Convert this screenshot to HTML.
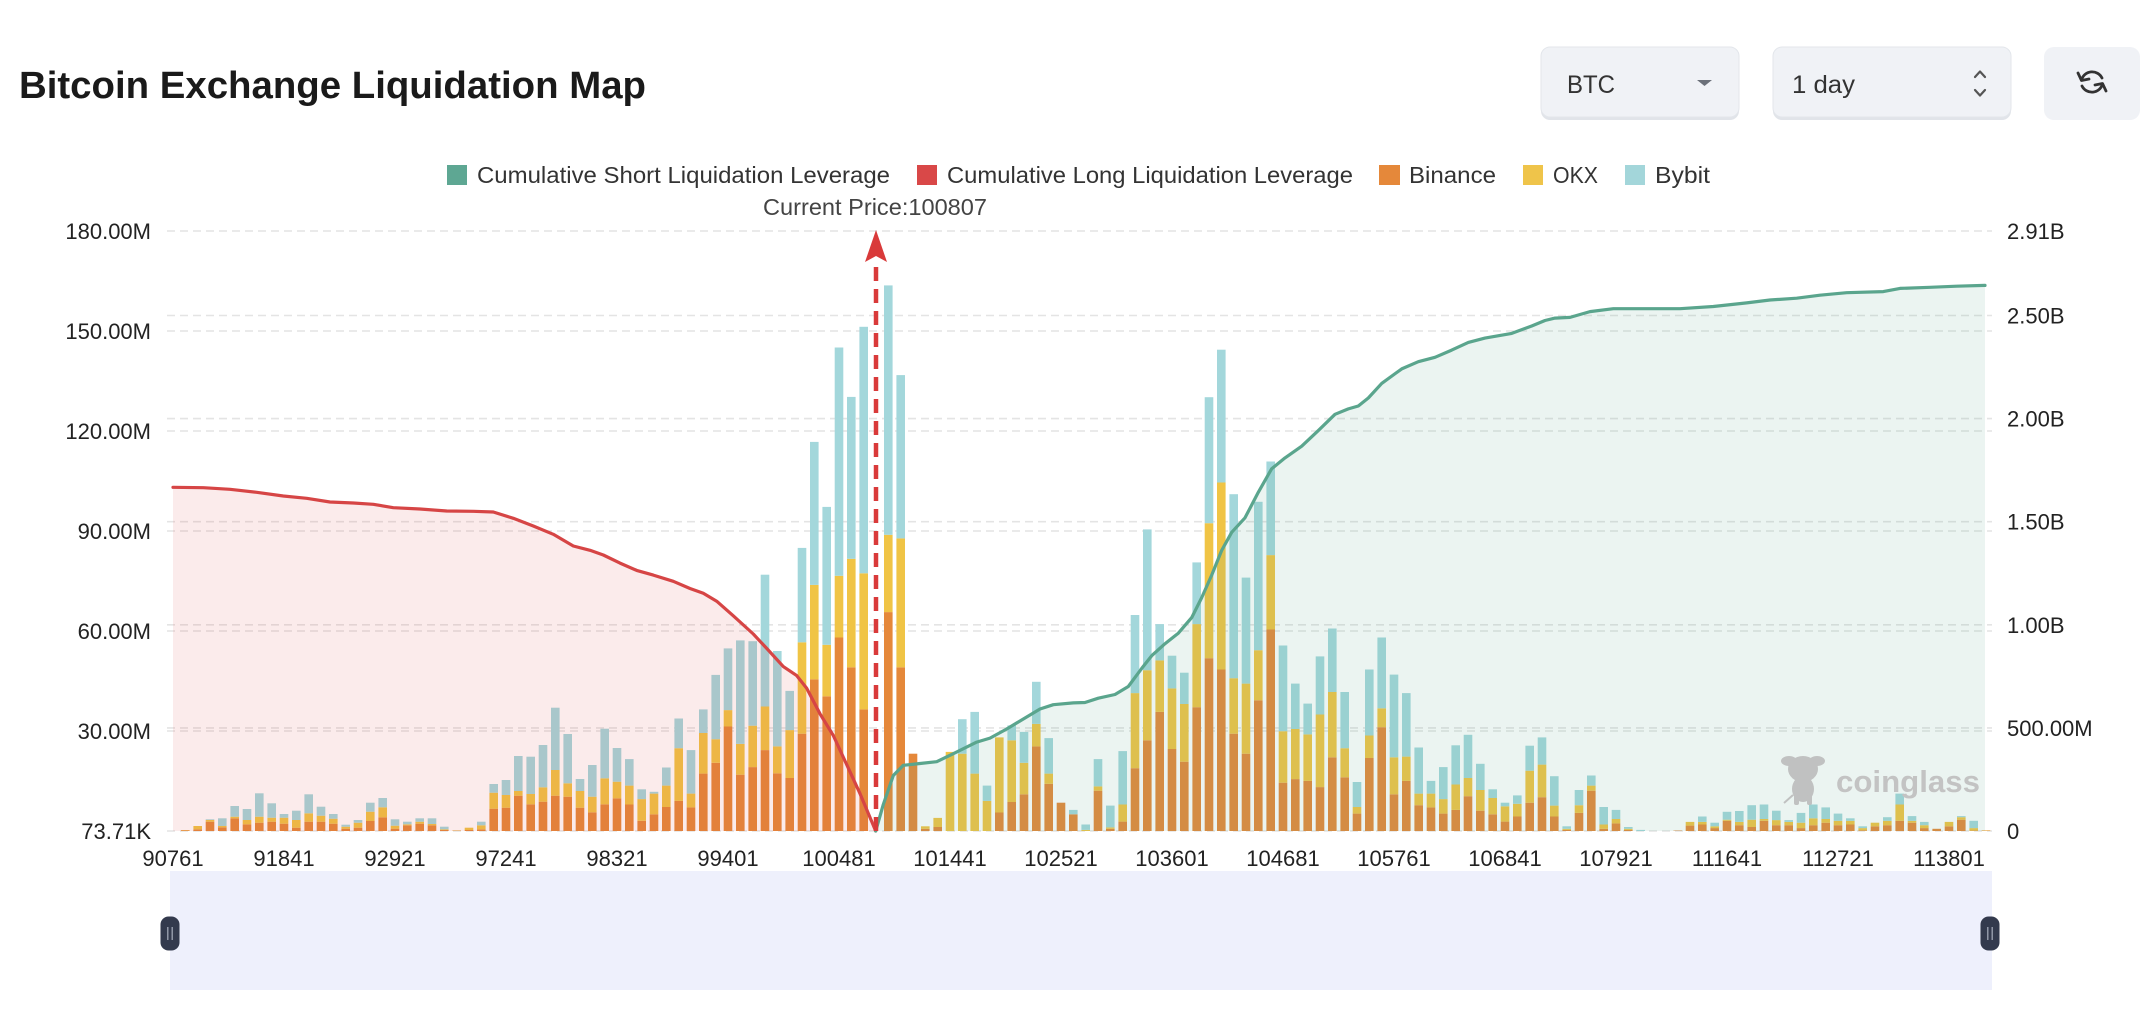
<!DOCTYPE html>
<html>
<head>
<meta charset="utf-8">
<style>
html,body{margin:0;padding:0;background:#fff;}
svg{display:block;}
.o{fill:#e5883a}.y{fill:#f0c445}.b{fill:#a3d7db}
.ax{font-family:"Liberation Sans",sans-serif;font-size:22px;fill:#222;}
.lg{font-family:"Liberation Sans",sans-serif;font-size:23px;fill:#333;}
.gl{stroke:#e4e4e4;stroke-width:1.6;stroke-dasharray:8 5;fill:none;}
</style>
</head>
<body>
<svg width="2156" height="1026" viewBox="0 0 2156 1026" xmlns="http://www.w3.org/2000/svg">
<rect x="0" y="0" width="2156" height="1026" fill="#fff"/>

<!-- Title -->
<text x="19" y="98" font-family="Liberation Sans, sans-serif" font-weight="700" font-size="38" fill="#1a1a1a" textLength="627" lengthAdjust="spacingAndGlyphs">Bitcoin Exchange Liquidation Map</text>

<!-- Controls -->
<rect x="1541" y="49" width="198" height="71" rx="9" fill="#e1e4e9"/>
<rect x="1541" y="47" width="198" height="70" rx="9" fill="#f0f2f6" stroke="#e3e6eb" stroke-width="1"/>
<text x="1567" y="93" font-family="Liberation Sans, sans-serif" font-size="25" fill="#333" textLength="48" lengthAdjust="spacingAndGlyphs">BTC</text>
<polygon points="1697,80 1712,80 1704.5,86" fill="#6b7079"/>

<rect x="1773" y="49" width="238" height="71" rx="9" fill="#e1e4e9"/>
<rect x="1773" y="47" width="238" height="70" rx="9" fill="#f0f2f6" stroke="#e3e6eb" stroke-width="1"/>
<text x="1792" y="93" font-family="Liberation Sans, sans-serif" font-size="25" fill="#333" textLength="63" lengthAdjust="spacingAndGlyphs">1 day</text>
<polyline points="1975,77 1980,71.5 1985,77" fill="none" stroke="#555" stroke-width="2.2" stroke-linecap="round" stroke-linejoin="round"/>
<polyline points="1975,90 1980,95.5 1985,90" fill="none" stroke="#555" stroke-width="2.2" stroke-linecap="round" stroke-linejoin="round"/>

<rect x="2044" y="47" width="96" height="73" rx="10" fill="#f0f2f6"/>
<g fill="none" stroke="#333" stroke-width="2.8" stroke-linecap="round" stroke-linejoin="round">
<path d="M2102,78 A11,11 0 0 0 2081.5,80"/>
<polyline points="2078,73 2081.5,80.5 2089,79"/>
<path d="M2082,86 A11,11 0 0 0 2102.5,84"/>
<polyline points="2106,91 2102.5,83.5 2095,85"/>
</g>

<!-- Legend -->
<rect x="447" y="165" width="20" height="20" fill="#5ea793"/>
<text class="lg" x="477" y="183" textLength="413" lengthAdjust="spacingAndGlyphs">Cumulative Short Liquidation Leverage</text>
<rect x="917" y="165" width="20" height="20" fill="#d94848"/>
<text class="lg" x="947" y="183" textLength="406" lengthAdjust="spacingAndGlyphs">Cumulative Long Liquidation Leverage</text>
<rect x="1379" y="165" width="21" height="20" fill="#e5883a"/>
<text class="lg" x="1409" y="183" textLength="87" lengthAdjust="spacingAndGlyphs">Binance</text>
<rect x="1523" y="165" width="20" height="20" fill="#efc44a"/>
<text class="lg" x="1553" y="183" textLength="45" lengthAdjust="spacingAndGlyphs">OKX</text>
<rect x="1625" y="165" width="20" height="20" fill="#a3d6da"/>
<text class="lg" x="1655" y="183" textLength="55" lengthAdjust="spacingAndGlyphs">Bybit</text>

<text x="763" y="215" font-family="Liberation Sans, sans-serif" font-size="23" fill="#444" textLength="224" lengthAdjust="spacingAndGlyphs">Current Price:100807</text>

<!-- Gridlines left axis -->
<g class="gl">
<line x1="167" y1="231" x2="1992" y2="231"/>
<line x1="167" y1="331" x2="1992" y2="331"/>
<line x1="167" y1="431" x2="1992" y2="431"/>
<line x1="167" y1="531" x2="1992" y2="531"/>
<line x1="167" y1="631" x2="1992" y2="631"/>
<line x1="167" y1="731" x2="1992" y2="731"/>
<line x1="167" y1="831" x2="1992" y2="831"/>
<!-- right axis -->
<line x1="167" y1="315.5" x2="1992" y2="315.5"/>
<line x1="167" y1="418.6" x2="1992" y2="418.6"/>
<line x1="167" y1="521.7" x2="1992" y2="521.7"/>
<line x1="167" y1="624.8" x2="1992" y2="624.8"/>
<line x1="167" y1="727.9" x2="1992" y2="727.9"/>
</g>

<!-- Bars -->
<g transform="translate(0,831) scale(1,-1)">
<rect class="o" x="181.0" width="8.6" height="0.7"/><rect class="y" x="181.0" y="0.7" width="8.6" height="0.3"/>
<rect class="o" x="193.4" width="8.6" height="1.7"/><rect class="y" x="193.4" y="1.7" width="8.6" height="3.3"/>
<rect class="o" x="205.7" width="8.6" height="9.3"/><rect class="y" x="205.7" y="9.3" width="8.6" height="1.7"/><rect class="b" x="205.7" y="11" width="8.6" height="0.7"/>
<rect class="o" x="218.0" width="8.6" height="3.7"/><rect class="y" x="218.0" y="3.7" width="8.6" height="1.3"/><rect class="b" x="218.0" y="5" width="8.6" height="7.7"/>
<rect class="o" x="230.4" width="8.6" height="12.7"/><rect class="y" x="230.4" y="12.7" width="8.6" height="1.6"/><rect class="b" x="230.4" y="14.3" width="8.6" height="10.7"/>
<rect class="o" x="242.7" width="8.6" height="6.7"/><rect class="y" x="242.7" y="6.7" width="8.6" height="4.3"/><rect class="b" x="242.7" y="11" width="8.6" height="11"/>
<rect class="o" x="255.0" width="8.6" height="8.3"/><rect class="y" x="255.0" y="8.3" width="8.6" height="6"/><rect class="b" x="255.0" y="14.3" width="8.6" height="23.4"/>
<rect class="o" x="267.4" width="8.6" height="9.3"/><rect class="y" x="267.4" y="9.3" width="8.6" height="4"/><rect class="b" x="267.4" y="13.3" width="8.6" height="14.4"/>
<rect class="o" x="279.7" width="8.6" height="7.3"/><rect class="y" x="279.7" y="7.3" width="8.6" height="6"/><rect class="b" x="279.7" y="13.3" width="8.6" height="3.7"/>
<rect class="o" x="292.0" width="8.6" height="3.3"/><rect class="y" x="292.0" y="3.3" width="8.6" height="7.7"/><rect class="b" x="292.0" y="11" width="8.6" height="9.3"/>
<rect class="o" x="304.4" width="8.6" height="9.3"/><rect class="y" x="304.4" y="9.3" width="8.6" height="8.4"/><rect class="b" x="304.4" y="17.7" width="8.6" height="19"/>
<rect class="o" x="316.7" width="8.6" height="9.3"/><rect class="y" x="316.7" y="9.3" width="8.6" height="6"/><rect class="b" x="316.7" y="15.3" width="8.6" height="9"/>
<rect class="o" x="329.0" width="8.6" height="7.3"/><rect class="y" x="329.0" y="7.3" width="8.6" height="5"/><rect class="b" x="329.0" y="12.3" width="8.6" height="4.7"/>
<rect class="o" x="341.4" width="8.6" height="2.3"/><rect class="y" x="341.4" y="2.3" width="8.6" height="2"/><rect class="b" x="341.4" y="4.3" width="8.6" height="2"/>
<rect class="o" x="353.7" width="8.6" height="3.3"/><rect class="y" x="353.7" y="3.3" width="8.6" height="5"/><rect class="b" x="353.7" y="8.3" width="8.6" height="2.7"/>
<rect class="o" x="366.0" width="8.6" height="10"/><rect class="y" x="366.0" y="10" width="8.6" height="9.3"/><rect class="b" x="366.0" y="19.3" width="8.6" height="9"/>
<rect class="o" x="378.4" width="8.6" height="13.7"/><rect class="y" x="378.4" y="13.7" width="8.6" height="10"/><rect class="b" x="378.4" y="23.7" width="8.6" height="9.3"/>
<rect class="o" x="390.7" width="8.6" height="2.3"/><rect class="y" x="390.7" y="2.3" width="8.6" height="3"/><rect class="b" x="390.7" y="5.3" width="8.6" height="6.4"/>
<rect class="o" x="403.0" width="8.6" height="5.7"/><rect class="y" x="403.0" y="5.7" width="8.6" height="1"/><rect class="b" x="403.0" y="6.7" width="8.6" height="2.6"/>
<rect class="o" x="415.4" width="8.6" height="7.3"/><rect class="y" x="415.4" y="7.3" width="8.6" height="2"/><rect class="b" x="415.4" y="9.3" width="8.6" height="3.4"/>
<rect class="o" x="427.7" width="8.6" height="5.7"/><rect class="y" x="427.7" y="5.7" width="8.6" height="1.3"/><rect class="b" x="427.7" y="7" width="8.6" height="5.7"/>
<rect class="o" x="440.0" width="8.6" height="1"/><rect class="y" x="440.0" y="1" width="8.6" height="0.7"/><rect class="b" x="440.0" y="1.7" width="8.6" height="2.6"/>
<rect class="o" x="452.4" width="8.6" height="0.3"/><rect class="y" x="452.4" y="0.3" width="8.6" height="0.3"/>
<rect class="o" x="464.7" width="8.6" height="1"/><rect class="y" x="464.7" y="1" width="8.6" height="2.3"/>
<rect class="o" x="477.0" width="8.6" height="1.7"/><rect class="y" x="477.0" y="1.7" width="8.6" height="4"/><rect class="b" x="477.0" y="5.7" width="8.6" height="3.6"/>
<rect class="o" x="489.4" width="8.6" height="22.3"/><rect class="y" x="489.4" y="22.3" width="8.6" height="16"/><rect class="b" x="489.4" y="38.3" width="8.6" height="8.7"/>
<rect class="o" x="501.7" width="8.6" height="23.3"/><rect class="y" x="501.7" y="23.3" width="8.6" height="12.7"/><rect class="b" x="501.7" y="36" width="8.6" height="15"/>
<rect class="o" x="514.0" width="8.6" height="35.3"/><rect class="y" x="514.0" y="35.3" width="8.6" height="4.7"/><rect class="b" x="514.0" y="40" width="8.6" height="35"/>
<rect class="o" x="526.4" width="8.6" height="26.7"/><rect class="y" x="526.4" y="26.7" width="8.6" height="10.3"/><rect class="b" x="526.4" y="37" width="8.6" height="37.3"/>
<rect class="o" x="538.7" width="8.6" height="29.3"/><rect class="y" x="538.7" y="29.3" width="8.6" height="14.4"/><rect class="b" x="538.7" y="43.7" width="8.6" height="42.3"/>
<rect class="o" x="551.0" width="8.6" height="35.3"/><rect class="y" x="551.0" y="35.3" width="8.6" height="25.7"/><rect class="b" x="551.0" y="61" width="8.6" height="62.3"/>
<rect class="o" x="563.4" width="8.6" height="34.3"/><rect class="y" x="563.4" y="34.3" width="8.6" height="13.4"/><rect class="b" x="563.4" y="47.7" width="8.6" height="49.3"/>
<rect class="o" x="575.7" width="8.6" height="23.3"/><rect class="y" x="575.7" y="23.3" width="8.6" height="16.7"/><rect class="b" x="575.7" y="40" width="8.6" height="12"/>
<rect class="o" x="588.0" width="8.6" height="18.7"/><rect class="y" x="588.0" y="18.7" width="8.6" height="15.6"/><rect class="b" x="588.0" y="34.3" width="8.6" height="31.7"/>
<rect class="o" x="600.4" width="8.6" height="26.7"/><rect class="y" x="600.4" y="26.7" width="8.6" height="26"/><rect class="b" x="600.4" y="52.7" width="8.6" height="49.6"/>
<rect class="o" x="612.7" width="8.6" height="32.7"/><rect class="y" x="612.7" y="32.7" width="8.6" height="16.6"/><rect class="b" x="612.7" y="49.3" width="8.6" height="33.7"/>
<rect class="o" x="625.0" width="8.6" height="26.5"/><rect class="y" x="625.0" y="26.5" width="8.6" height="18.9"/><rect class="b" x="625.0" y="45.4" width="8.6" height="26.5"/>
<rect class="o" x="637.4" width="8.6" height="10.2"/><rect class="y" x="637.4" y="10.2" width="8.6" height="21.7"/><rect class="b" x="637.4" y="31.9" width="8.6" height="9.8"/>
<rect class="o" x="649.7" width="8.6" height="16.7"/><rect class="y" x="649.7" y="16.7" width="8.6" height="20.7"/><rect class="b" x="649.7" y="37.4" width="8.6" height="1.8"/>
<rect class="o" x="662.0" width="8.6" height="24"/><rect class="y" x="662.0" y="24" width="8.6" height="21.4"/><rect class="b" x="662.0" y="45.4" width="8.6" height="18.1"/>
<rect class="o" x="674.4" width="8.6" height="30.1"/><rect class="y" x="674.4" y="30.1" width="8.6" height="52.7"/><rect class="b" x="674.4" y="82.8" width="8.6" height="29.7"/>
<rect class="o" x="686.7" width="8.6" height="23.6"/><rect class="y" x="686.7" y="23.6" width="8.6" height="13.8"/><rect class="b" x="686.7" y="37.4" width="8.6" height="43.5"/>
<rect class="o" x="699.0" width="8.6" height="57.4"/><rect class="y" x="699.0" y="57.4" width="8.6" height="40.6"/><rect class="b" x="699.0" y="98" width="8.6" height="23.6"/>
<rect class="o" x="711.4" width="8.6" height="68.2"/><rect class="y" x="711.4" y="68.2" width="8.6" height="23.6"/><rect class="b" x="711.4" y="91.8" width="8.6" height="64.3"/>
<rect class="o" x="723.7" width="8.6" height="104.5"/><rect class="y" x="723.7" y="104.5" width="8.6" height="16.4"/><rect class="b" x="723.7" y="120.9" width="8.6" height="61.7"/>
<rect class="o" x="736.0" width="8.6" height="56.3"/><rect class="y" x="736.0" y="56.3" width="8.6" height="30.8"/><rect class="b" x="736.0" y="87.1" width="8.6" height="103.5"/>
<rect class="o" x="748.4" width="8.6" height="63.9"/><rect class="y" x="748.4" y="63.9" width="8.6" height="41.4"/><rect class="b" x="748.4" y="105.3" width="8.6" height="84.5"/>
<rect class="o" x="760.7" width="8.6" height="80.9"/><rect class="y" x="760.7" y="80.9" width="8.6" height="43.6"/><rect class="b" x="760.7" y="124.5" width="8.6" height="131.8"/>
<rect class="o" x="773.0" width="8.6" height="57.7"/><rect class="y" x="773.0" y="57.7" width="8.6" height="26.9"/><rect class="b" x="773.0" y="84.6" width="8.6" height="95.4"/>
<rect class="o" x="785.4" width="8.6" height="53"/><rect class="y" x="785.4" y="53" width="8.6" height="47.9"/><rect class="b" x="785.4" y="100.9" width="8.6" height="39.2"/>
<rect class="o" x="797.7" width="8.6" height="97.3"/><rect class="y" x="797.7" y="97.3" width="8.6" height="91.4"/><rect class="b" x="797.7" y="188.7" width="8.6" height="94.4"/>
<rect class="o" x="810.0" width="8.6" height="151.7"/><rect class="y" x="810.0" y="151.7" width="8.6" height="94.4"/><rect class="b" x="810.0" y="246.1" width="8.6" height="143"/>
<rect class="o" x="822.4" width="8.6" height="134.7"/><rect class="y" x="822.4" y="134.7" width="8.6" height="51.5"/><rect class="b" x="822.4" y="186.2" width="8.6" height="137.9"/>
<rect class="o" x="834.7" width="8.6" height="193.5"/><rect class="y" x="834.7" y="193.5" width="8.6" height="61.7"/><rect class="b" x="834.7" y="255.2" width="8.6" height="228.3"/>
<rect class="o" x="847.0" width="8.6" height="163.7"/><rect class="y" x="847.0" y="163.7" width="8.6" height="108.5"/><rect class="b" x="847.0" y="272.2" width="8.6" height="161.9"/>
<rect class="o" x="859.4" width="8.6" height="121.6"/><rect class="y" x="859.4" y="121.6" width="8.6" height="136.1"/><rect class="b" x="859.4" y="257.7" width="8.6" height="246.5"/>
<rect class="o" x="884.0" width="8.6" height="218.9"/><rect class="y" x="884.0" y="218.9" width="8.6" height="77.3"/><rect class="b" x="884.0" y="296.2" width="8.6" height="249.4"/>
<rect class="o" x="896.4" width="8.6" height="163.7"/><rect class="y" x="896.4" y="163.7" width="8.6" height="128.9"/><rect class="b" x="896.4" y="292.6" width="8.6" height="163.3"/>
<rect class="o" x="908.7" width="8.6" height="77.3"/>
<rect class="o" x="921.0" width="8.6" height="2.2"/><rect class="y" x="921.0" y="2.2" width="8.6" height="2.5"/>
<rect class="o" x="933.4" width="8.6" height="4"/><rect class="y" x="933.4" y="4" width="8.6" height="9.1"/>
<rect class="y" x="945.7" width="8.6" height="79.1"/>
<rect class="y" x="958.0" width="8.6" height="77.3"/><rect class="b" x="958.0" y="77.3" width="8.6" height="34.5"/>
<rect class="y" x="970.4" width="8.6" height="57.4"/><rect class="b" x="970.4" y="57.4" width="8.6" height="61.7"/>
<rect class="y" x="982.7" width="8.6" height="30.1"/><rect class="b" x="982.7" y="30.1" width="8.6" height="15.3"/>
<rect class="o" x="995.0" width="8.6" height="18.5"/><rect class="y" x="995.0" y="18.5" width="8.6" height="75.1"/>
<rect class="o" x="1007.4" width="8.6" height="29"/><rect class="y" x="1007.4" y="29" width="8.6" height="61.7"/><rect class="b" x="1007.4" y="90.7" width="8.6" height="14.9"/>
<rect class="o" x="1019.7" width="8.6" height="36.7"/><rect class="y" x="1019.7" y="36.7" width="8.6" height="31.5"/><rect class="b" x="1019.7" y="68.2" width="8.6" height="30.9"/>
<rect class="o" x="1032.0" width="8.6" height="84.6"/><rect class="y" x="1032.0" y="84.6" width="8.6" height="22.5"/><rect class="b" x="1032.0" y="107.1" width="8.6" height="42.1"/>
<rect class="o" x="1044.4" width="8.6" height="47.2"/><rect class="y" x="1044.4" y="47.2" width="8.6" height="10.2"/><rect class="b" x="1044.4" y="57.4" width="8.6" height="35.5"/>
<rect class="o" x="1056.7" width="8.6" height="28.3"/>
<rect class="o" x="1069.0" width="8.6" height="16.7"/><rect class="b" x="1069.0" y="16.7" width="8.6" height="4.4"/>
<rect class="y" x="1081.4" width="8.6" height="1.1"/><rect class="b" x="1081.4" y="1.1" width="8.6" height="5.4"/>
<rect class="o" x="1093.7" width="8.6" height="40.3"/><rect class="y" x="1093.7" y="40.3" width="8.6" height="4.3"/><rect class="b" x="1093.7" y="44.6" width="8.6" height="27.3"/>
<rect class="o" x="1106.0" width="8.6" height="2.2"/><rect class="y" x="1106.0" y="2.2" width="8.6" height="1.4"/><rect class="b" x="1106.0" y="3.6" width="8.6" height="21.8"/>
<rect class="o" x="1118.4" width="8.6" height="9.4"/><rect class="y" x="1118.4" y="9.4" width="8.6" height="17.1"/><rect class="b" x="1118.4" y="26.5" width="8.6" height="53.4"/>
<rect class="o" x="1130.7" width="8.6" height="62.8"/><rect class="y" x="1130.7" y="62.8" width="8.6" height="75.1"/><rect class="b" x="1130.7" y="137.9" width="8.6" height="78.1"/>
<rect class="o" x="1143.0" width="8.6" height="90.7"/><rect class="y" x="1143.0" y="90.7" width="8.6" height="70.1"/><rect class="b" x="1143.0" y="160.8" width="8.6" height="140.8"/>
<rect class="o" x="1155.4" width="8.6" height="119.1"/><rect class="y" x="1155.4" y="119.1" width="8.6" height="51.5"/><rect class="b" x="1155.4" y="170.6" width="8.6" height="36.3"/>
<rect class="o" x="1167.7" width="8.6" height="82"/><rect class="y" x="1167.7" y="82" width="8.6" height="60.6"/><rect class="b" x="1167.7" y="142.6" width="8.6" height="32.7"/>
<rect class="o" x="1180.0" width="8.6" height="69.3"/><rect class="y" x="1180.0" y="69.3" width="8.6" height="57.7"/><rect class="b" x="1180.0" y="127" width="8.6" height="31.3"/>
<rect class="o" x="1192.4" width="8.6" height="123.8"/><rect class="y" x="1192.4" y="123.8" width="8.6" height="83.1"/><rect class="b" x="1192.4" y="206.9" width="8.6" height="61.7"/>
<rect class="o" x="1204.7" width="8.6" height="172.8"/><rect class="y" x="1204.7" y="172.8" width="8.6" height="135"/><rect class="b" x="1204.7" y="307.8" width="8.6" height="126"/>
<rect class="o" x="1217.0" width="8.6" height="161.5"/><rect class="y" x="1217.0" y="161.5" width="8.6" height="187"/><rect class="b" x="1217.0" y="348.5" width="8.6" height="132.8"/>
<rect class="o" x="1229.4" width="8.6" height="97.3"/><rect class="y" x="1229.4" y="97.3" width="8.6" height="55.5"/><rect class="b" x="1229.4" y="152.8" width="8.6" height="184"/>
<rect class="o" x="1241.7" width="8.6" height="77.3"/><rect class="y" x="1241.7" y="77.3" width="8.6" height="70.1"/><rect class="b" x="1241.7" y="147.4" width="8.6" height="106"/>
<rect class="o" x="1254.0" width="8.6" height="130.7"/><rect class="y" x="1254.0" y="130.7" width="8.6" height="50.1"/><rect class="b" x="1254.0" y="180.8" width="8.6" height="148.4"/>
<rect class="o" x="1266.4" width="8.6" height="201.5"/><rect class="y" x="1266.4" y="201.5" width="8.6" height="74.4"/><rect class="b" x="1266.4" y="275.9" width="8.6" height="93.6"/>
<rect class="o" x="1278.7" width="8.6" height="48.3"/><rect class="y" x="1278.7" y="48.3" width="8.6" height="51.5"/><rect class="b" x="1278.7" y="99.8" width="8.6" height="85.7"/>
<rect class="o" x="1291.0" width="8.6" height="51.9"/><rect class="y" x="1291.0" y="51.9" width="8.6" height="50.1"/><rect class="b" x="1291.0" y="102" width="8.6" height="45.4"/>
<rect class="o" x="1303.4" width="8.6" height="50.1"/><rect class="y" x="1303.4" y="50.1" width="8.6" height="46.5"/><rect class="b" x="1303.4" y="96.6" width="8.6" height="30.8"/>
<rect class="o" x="1315.7" width="8.6" height="43.9"/><rect class="y" x="1315.7" y="43.9" width="8.6" height="72.6"/><rect class="b" x="1315.7" y="116.5" width="8.6" height="58.1"/>
<rect class="o" x="1328.0" width="8.6" height="73.7"/><rect class="y" x="1328.0" y="73.7" width="8.6" height="65.3"/><rect class="b" x="1328.0" y="139" width="8.6" height="63.5"/>
<rect class="o" x="1340.4" width="8.6" height="53.7"/><rect class="y" x="1340.4" y="53.7" width="8.6" height="29.1"/><rect class="b" x="1340.4" y="82.8" width="8.6" height="56.2"/>
<rect class="o" x="1352.7" width="8.6" height="17.4"/><rect class="y" x="1352.7" y="17.4" width="8.6" height="6.6"/><rect class="b" x="1352.7" y="24" width="8.6" height="25"/>
<rect class="o" x="1365.0" width="8.6" height="73"/><rect class="y" x="1365.0" y="73" width="8.6" height="22.5"/><rect class="b" x="1365.0" y="95.5" width="8.6" height="66"/>
<rect class="o" x="1377.4" width="8.6" height="103.8"/><rect class="y" x="1377.4" y="103.8" width="8.6" height="18.9"/><rect class="b" x="1377.4" y="122.7" width="8.6" height="70.8"/>
<rect class="o" x="1389.7" width="8.6" height="36.7"/><rect class="y" x="1389.7" y="36.7" width="8.6" height="37"/><rect class="b" x="1389.7" y="73.7" width="8.6" height="82.7"/>
<rect class="o" x="1402.0" width="8.6" height="50.1"/><rect class="y" x="1402.0" y="50.1" width="8.6" height="24.3"/><rect class="b" x="1402.0" y="74.4" width="8.6" height="63.5"/>
<rect class="o" x="1414.4" width="8.6" height="25.8"/><rect class="y" x="1414.4" y="25.8" width="8.6" height="11.6"/><rect class="b" x="1414.4" y="37.4" width="8.6" height="46.1"/>
<rect class="o" x="1426.7" width="8.6" height="23.6"/><rect class="y" x="1426.7" y="23.6" width="8.6" height="13.8"/><rect class="b" x="1426.7" y="37.4" width="8.6" height="12.7"/>
<rect class="o" x="1439.0" width="8.6" height="17.4"/><rect class="y" x="1439.0" y="17.4" width="8.6" height="14.5"/><rect class="b" x="1439.0" y="31.9" width="8.6" height="32"/>
<rect class="o" x="1451.4" width="8.6" height="21.1"/><rect class="y" x="1451.4" y="21.1" width="8.6" height="25.4"/><rect class="b" x="1451.4" y="46.5" width="8.6" height="39.2"/>
<rect class="o" x="1463.7" width="8.6" height="34.8"/><rect class="y" x="1463.7" y="34.8" width="8.6" height="18.2"/><rect class="b" x="1463.7" y="53" width="8.6" height="43.2"/>
<rect class="o" x="1476.0" width="8.6" height="20.3"/><rect class="y" x="1476.0" y="20.3" width="8.6" height="20.7"/><rect class="b" x="1476.0" y="41" width="8.6" height="26.2"/>
<rect class="o" x="1488.4" width="8.6" height="16.7"/><rect class="y" x="1488.4" y="16.7" width="8.6" height="16.3"/><rect class="b" x="1488.4" y="33" width="8.6" height="8.7"/>
<rect class="o" x="1500.7" width="8.6" height="9.4"/><rect class="y" x="1500.7" y="9.4" width="8.6" height="15.3"/><rect class="b" x="1500.7" y="24.7" width="8.6" height="3.6"/>
<rect class="o" x="1513.0" width="8.6" height="14.5"/><rect class="y" x="1513.0" y="14.5" width="8.6" height="12.7"/><rect class="b" x="1513.0" y="27.2" width="8.6" height="8.4"/>
<rect class="o" x="1525.4" width="8.6" height="28.3"/><rect class="y" x="1525.4" y="28.3" width="8.6" height="32"/><rect class="b" x="1525.4" y="60.3" width="8.6" height="25"/>
<rect class="o" x="1537.7" width="8.6" height="33.8"/><rect class="y" x="1537.7" y="33.8" width="8.6" height="32.6"/><rect class="b" x="1537.7" y="66.4" width="8.6" height="27.2"/>
<rect class="o" x="1550.0" width="8.6" height="14.5"/><rect class="y" x="1550.0" y="14.5" width="8.6" height="10.9"/><rect class="b" x="1550.0" y="25.4" width="8.6" height="29.4"/>
<rect class="o" x="1562.4" width="8.6" height="1.1"/><rect class="y" x="1562.4" y="1.1" width="8.6" height="1.1"/><rect class="b" x="1562.4" y="2.2" width="8.6" height="2.5"/>
<rect class="o" x="1574.7" width="8.6" height="18.1"/><rect class="y" x="1574.7" y="18.1" width="8.6" height="7.7"/><rect class="b" x="1574.7" y="25.8" width="8.6" height="15.2"/>
<rect class="o" x="1587.0" width="8.6" height="40.3"/><rect class="y" x="1587.0" y="40.3" width="8.6" height="5.1"/><rect class="b" x="1587.0" y="45.4" width="8.6" height="10.1"/>
<rect class="o" x="1599.4" width="8.6" height="2.2"/><rect class="y" x="1599.4" y="2.2" width="8.6" height="4.3"/><rect class="b" x="1599.4" y="6.5" width="8.6" height="17.5"/>
<rect class="o" x="1611.7" width="8.6" height="7.6"/><rect class="y" x="1611.7" y="7.6" width="8.6" height="4.4"/><rect class="b" x="1611.7" y="12" width="8.6" height="9.1"/>
<rect class="o" x="1624.0" width="8.6" height="1.1"/><rect class="y" x="1624.0" y="1.1" width="8.6" height="1.1"/><rect class="b" x="1624.0" y="2.2" width="8.6" height="1.8"/>
<rect class="b" x="1636.4" width="8.6" height="1.1"/>
<rect class="o" x="1673.4" width="8.6" height="0.4"/>
<rect class="o" x="1685.7" width="8.6" height="5.4"/><rect class="y" x="1685.7" y="5.4" width="8.6" height="3.7"/>
<rect class="o" x="1698.0" width="8.6" height="6.5"/><rect class="y" x="1698.0" y="6.5" width="8.6" height="2.6"/><rect class="b" x="1698.0" y="9.1" width="8.6" height="5.4"/>
<rect class="o" x="1710.4" width="8.6" height="2.9"/><rect class="y" x="1710.4" y="2.9" width="8.6" height="1.8"/><rect class="b" x="1710.4" y="4.7" width="8.6" height="3.6"/>
<rect class="o" x="1722.7" width="8.6" height="10.2"/><rect class="y" x="1722.7" y="10.2" width="8.6" height="1.1"/><rect class="b" x="1722.7" y="11.3" width="8.6" height="7.9"/>
<rect class="o" x="1735.0" width="8.6" height="5.8"/><rect class="y" x="1735.0" y="5.8" width="8.6" height="3.3"/><rect class="b" x="1735.0" y="9.1" width="8.6" height="10.9"/>
<rect class="o" x="1747.4" width="8.6" height="4"/><rect class="y" x="1747.4" y="4" width="8.6" height="7.3"/><rect class="b" x="1747.4" y="11.3" width="8.6" height="14.5"/>
<rect class="o" x="1759.7" width="8.6" height="10.2"/><rect class="y" x="1759.7" y="10.2" width="8.6" height="1.8"/><rect class="b" x="1759.7" y="12" width="8.6" height="14.5"/>
<rect class="o" x="1772.0" width="8.6" height="5.8"/><rect class="y" x="1772.0" y="5.8" width="8.6" height="5.1"/><rect class="b" x="1772.0" y="10.9" width="8.6" height="9.4"/>
<rect class="o" x="1784.4" width="8.6" height="5.8"/><rect class="y" x="1784.4" y="5.8" width="8.6" height="3.3"/><rect class="b" x="1784.4" y="9.1" width="8.6" height="1.8"/>
<rect class="o" x="1796.7" width="8.6" height="2.9"/><rect class="y" x="1796.7" y="2.9" width="8.6" height="5.4"/><rect class="b" x="1796.7" y="8.3" width="8.6" height="9.8"/>
<rect class="o" x="1809.0" width="8.6" height="5.8"/><rect class="y" x="1809.0" y="5.8" width="8.6" height="6.9"/><rect class="b" x="1809.0" y="12.7" width="8.6" height="13.8"/>
<rect class="o" x="1821.4" width="8.6" height="8.3"/><rect class="y" x="1821.4" y="8.3" width="8.6" height="3.7"/><rect class="b" x="1821.4" y="12" width="8.6" height="11.6"/>
<rect class="o" x="1833.7" width="8.6" height="5.8"/><rect class="y" x="1833.7" y="5.8" width="8.6" height="4.4"/><rect class="b" x="1833.7" y="10.2" width="8.6" height="7.2"/>
<rect class="o" x="1846.0" width="8.6" height="6.5"/><rect class="y" x="1846.0" y="6.5" width="8.6" height="3.7"/><rect class="b" x="1846.0" y="10.2" width="8.6" height="2.5"/>
<rect class="o" x="1858.4" width="8.6" height="0.7"/><rect class="y" x="1858.4" y="0.7" width="8.6" height="2.2"/><rect class="b" x="1858.4" y="2.9" width="8.6" height="1.8"/>
<rect class="o" x="1870.7" width="8.6" height="4.7"/><rect class="y" x="1870.7" y="4.7" width="8.6" height="3.6"/>
<rect class="o" x="1883.0" width="8.6" height="5.8"/><rect class="y" x="1883.0" y="5.8" width="8.6" height="4.4"/><rect class="b" x="1883.0" y="10.2" width="8.6" height="3.6"/>
<rect class="o" x="1895.4" width="8.6" height="10.2"/><rect class="y" x="1895.4" y="10.2" width="8.6" height="16.3"/><rect class="b" x="1895.4" y="26.5" width="8.6" height="10.9"/>
<rect class="o" x="1907.7" width="8.6" height="8.3"/><rect class="y" x="1907.7" y="8.3" width="8.6" height="1.9"/><rect class="b" x="1907.7" y="10.2" width="8.6" height="4.7"/>
<rect class="o" x="1920.0" width="8.6" height="2.9"/><rect class="y" x="1920.0" y="2.9" width="8.6" height="2.9"/><rect class="b" x="1920.0" y="5.8" width="8.6" height="3.3"/>
<rect class="o" x="1932.4" width="8.6" height="2.2"/>
<rect class="o" x="1944.7" width="8.6" height="4.7"/><rect class="y" x="1944.7" y="4.7" width="8.6" height="4.4"/>
<rect class="o" x="1957.0" width="8.6" height="11.3"/><rect class="y" x="1957.0" y="11.3" width="8.6" height="2.5"/><rect class="b" x="1957.0" y="13.8" width="8.6" height="1.1"/>
<rect class="o" x="1969.4" width="8.6" height="0.4"/><rect class="y" x="1969.4" y="0.4" width="8.6" height="2.5"/><rect class="b" x="1969.4" y="2.9" width="8.6" height="7.3"/>
<rect class="o" x="1981.7" width="8.6" height="0.4"/><rect class="y" x="1981.7" y="0.4" width="8.6" height="0.3"/>
</g>

<!-- Area fills -->
<path d="M173,487.3 L203.3,487.7 L230,489.3 L256.7,492.3 L283.3,496 L306.7,498.3 L330,502 L353.3,503 L373.3,504.3 L393.3,507.7 L420,509 L446.7,511 L473.3,511.3 L493.3,512 L513.3,518.3 L533.3,526 L553.3,534.3 L573.3,546 L590,550.3 L603.3,555 L620,563.1 L636.7,570.4 L653.3,575.1 L673.3,581.3 L690,588.5 L703.3,593.3 L716.7,601.2 L733.3,615.8 L753.3,634 L766.7,648.4 L783.3,666.6 L796.7,675.6 L806.7,688.3 L820,713.8 L833.3,735.5 L846.7,764.6 L860,793.6 L875.7,831 L173,831 Z" fill="#d94848" fill-opacity="0.11"/>
<path d="M875.7,831 L883.3,804.5 L893.3,775.5 L903.3,765.3 L920,763.5 L936.7,761.7 L953.3,753.7 L976.7,742.1 L990,738.1 L1006.7,729 L1020,721 L1040,709 L1053.3,704.7 L1073.3,702.9 L1085,702.5 L1098.3,698.2 L1115,694.5 L1128.3,686.5 L1141.7,668.4 L1151.7,655.7 L1165,643.7 L1178.3,633.2 L1191.7,617.6 L1201.7,597.6 L1211.7,575.1 L1221.7,550.4 L1231.7,532.3 L1245,517.8 L1258.3,492.3 L1271.7,468.7 L1285,457.9 L1301.7,446.2 L1318.3,430.6 L1335,414.3 L1348.3,408.9 L1358.3,406 L1368.3,398 L1381.7,383.4 L1401.7,368.9 L1418.3,361.7 L1435,357.3 L1451.7,350.1 L1468.3,342.4 L1485,338.1 L1511.7,333.4 L1531.7,326 L1545,320.5 L1555,318.1 L1570,317.4 L1590,311.6 L1613.3,308.7 L1680,308.7 L1713.3,306.5 L1746.7,302.9 L1770,300 L1796.7,298.2 L1820,295.2 L1846.7,292.7 L1883.3,291.6 L1900,288.4 L1930,287.3 L1956.7,286.2 L1985,285.4 L1985,831 Z" fill="#5ea793" fill-opacity="0.124"/>

<!-- Lines -->
<path d="M173,487.3 L203.3,487.7 L230,489.3 L256.7,492.3 L283.3,496 L306.7,498.3 L330,502 L353.3,503 L373.3,504.3 L393.3,507.7 L420,509 L446.7,511 L473.3,511.3 L493.3,512 L513.3,518.3 L533.3,526 L553.3,534.3 L573.3,546 L590,550.3 L603.3,555 L620,563.1 L636.7,570.4 L653.3,575.1 L673.3,581.3 L690,588.5 L703.3,593.3 L716.7,601.2 L733.3,615.8 L753.3,634 L766.7,648.4 L783.3,666.6 L796.7,675.6 L806.7,688.3 L820,713.8 L833.3,735.5 L846.7,764.6 L860,793.6 L875.7,831" fill="none" stroke="#d64545" stroke-width="3.2" stroke-linejoin="round" stroke-linecap="round"/>
<path d="M875.7,831 L883.3,804.5 L893.3,775.5 L903.3,765.3 L920,763.5 L936.7,761.7 L953.3,753.7 L976.7,742.1 L990,738.1 L1006.7,729 L1020,721 L1040,709 L1053.3,704.7 L1073.3,702.9 L1085,702.5 L1098.3,698.2 L1115,694.5 L1128.3,686.5 L1141.7,668.4 L1151.7,655.7 L1165,643.7 L1178.3,633.2 L1191.7,617.6 L1201.7,597.6 L1211.7,575.1 L1221.7,550.4 L1231.7,532.3 L1245,517.8 L1258.3,492.3 L1271.7,468.7 L1285,457.9 L1301.7,446.2 L1318.3,430.6 L1335,414.3 L1348.3,408.9 L1358.3,406 L1368.3,398 L1381.7,383.4 L1401.7,368.9 L1418.3,361.7 L1435,357.3 L1451.7,350.1 L1468.3,342.4 L1485,338.1 L1511.7,333.4 L1531.7,326 L1545,320.5 L1555,318.1 L1570,317.4 L1590,311.6 L1613.3,308.7 L1680,308.7 L1713.3,306.5 L1746.7,302.9 L1770,300 L1796.7,298.2 L1820,295.2 L1846.7,292.7 L1883.3,291.6 L1900,288.4 L1930,287.3 L1956.7,286.2 L1985,285.4" fill="none" stroke="#5aa58d" stroke-width="3.2" stroke-linejoin="round" stroke-linecap="round"/>

<!-- Current price arrow -->
<line x1="876" y1="831" x2="876" y2="263" stroke="#d93a3a" stroke-width="4.5" stroke-dasharray="14 8"/>
<polygon points="876,230 887,262 876,256 865,262" fill="#d93a3a"/>

<!-- Watermark -->
<g fill="#bdbdbd" opacity="0.92">
<ellipse cx="1789" cy="761" rx="8" ry="5"/>
<ellipse cx="1817" cy="761" rx="8" ry="5"/>
<ellipse cx="1803" cy="769" rx="15" ry="13"/>
<ellipse cx="1803" cy="789" rx="11" ry="13"/>
<rect x="1794" y="795" width="5" height="10" rx="2"/>
<rect x="1807" y="795" width="5" height="10" rx="2"/>
<path d="M1793,795 L1784,803" stroke="#bdbdbd" stroke-width="2" fill="none"/>
</g>
<text x="1836" y="792" font-family="Liberation Sans, sans-serif" font-weight="700" font-size="31" fill="#c3c3c3" textLength="144" lengthAdjust="spacingAndGlyphs">coinglass</text>

<!-- Left axis labels -->
<g class="ax" text-anchor="end">
<text x="151" y="239">180.00M</text>
<text x="151" y="339">150.00M</text>
<text x="151" y="439">120.00M</text>
<text x="151" y="539">90.00M</text>
<text x="151" y="639">60.00M</text>
<text x="151" y="739">30.00M</text>
<text x="151" y="839">73.71K</text>
</g>
<!-- Right axis labels -->
<g class="ax">
<text x="2007" y="239">2.91B</text>
<text x="2007" y="323.5">2.50B</text>
<text x="2007" y="426.6">2.00B</text>
<text x="2007" y="529.7">1.50B</text>
<text x="2007" y="632.8">1.00B</text>
<text x="2007" y="735.9">500.00M</text>
<text x="2007" y="839">0</text>
</g>
<!-- X axis labels -->
<g class="ax" text-anchor="middle">
<text x="173" y="866">90761</text>
<text x="284" y="866">91841</text>
<text x="395" y="866">92921</text>
<text x="506" y="866">97241</text>
<text x="617" y="866">98321</text>
<text x="728" y="866">99401</text>
<text x="839" y="866">100481</text>
<text x="950" y="866">101441</text>
<text x="1061" y="866">102521</text>
<text x="1172" y="866">103601</text>
<text x="1283" y="866">104681</text>
<text x="1394" y="866">105761</text>
<text x="1505" y="866">106841</text>
<text x="1616" y="866">107921</text>
<text x="1727" y="866">111641</text>
<text x="1838" y="866">112721</text>
<text x="1949" y="866">113801</text>
</g>

<!-- DataZoom slider -->
<rect x="170" y="871" width="1822" height="119" fill="#eef0fc"/>
<rect x="160.5" y="916.5" width="19" height="34" rx="8" fill="#333a4d"/>
<line x1="167.8" y1="927" x2="167.8" y2="940" stroke="#a0a6b5" stroke-width="1.3"/>
<line x1="172.2" y1="927" x2="172.2" y2="940" stroke="#a0a6b5" stroke-width="1.3"/>
<rect x="1980.5" y="916.5" width="19" height="34" rx="8" fill="#333a4d"/>
<line x1="1987.8" y1="927" x2="1987.8" y2="940" stroke="#a0a6b5" stroke-width="1.3"/>
<line x1="1992.2" y1="927" x2="1992.2" y2="940" stroke="#a0a6b5" stroke-width="1.3"/>
</svg>
</body>
</html>
